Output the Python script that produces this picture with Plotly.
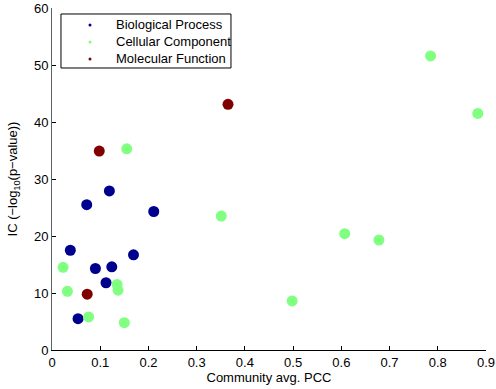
import plotly.graph_objects as go

# Community average PCC vs information content, grouped by GO namespace
bp_pcc = [0.119, 0.072, 0.211, 0.038, 0.169, 0.090, 0.124, 0.112, 0.054]
bp_ic = [27.9, 25.5, 24.3, 17.5, 16.7, 14.3, 14.6, 11.8, 5.5]

cc_pcc = [0.155, 0.351, 0.023, 0.135, 0.137, 0.032, 0.076, 0.150,
          0.785, 0.883, 0.607, 0.678, 0.498]
cc_ic = [35.3, 23.5, 14.5, 11.5, 10.5, 10.3, 5.8, 4.8,
         51.6, 41.5, 20.4, 19.3, 8.6]

mf_pcc = [0.098, 0.073, 0.365]
mf_ic = [34.9, 9.8, 43.1]

names = ["Biological Process", "Cellular Component", "Molecular Function"]
colors = ["#00008F", "#80FF80", "#800000"]
series = [(bp_pcc, bp_ic), (cc_pcc, cc_ic), (mf_pcc, mf_ic)]

x_ticks = [0, 0.1, 0.2, 0.3, 0.4, 0.5, 0.6, 0.7, 0.8, 0.9]
y_ticks = [0, 10, 20, 30, 40, 50, 60]

fig = go.Figure()
for name, color, (xs, ys) in zip(names, colors, series):
    fig.add_trace(go.Scatter(
        x=xs, y=ys, mode="markers", name=name, showlegend=False,
        marker=dict(color=color, size=11, line=dict(width=0)),
    ))

# Boxed legend in the upper-left corner with tiny marker dots
fig.add_shape(type="rect", xref="paper", yref="paper",
              x0=0.0207, x1=0.4124, y0=0.8246, y1=0.9825,
              line=dict(color="black", width=1), fillcolor="white", layer="above")
row_y = [0.9503, 0.9006, 0.8509]
for name, color, yy in zip(names, colors, row_y):
    fig.add_shape(type="circle", xref="paper", yref="paper",
                  xsizemode="pixel", ysizemode="pixel",
                  xanchor=0.0876, yanchor=yy,
                  x0=-1.5, x1=1.5, y0=-1.5, y1=1.5,
                  line=dict(width=0), fillcolor=color, layer="above")
    fig.add_annotation(x=0.1429, y=yy, xref="paper", yref="paper",
                       text=name, showarrow=False, xanchor="left", yanchor="middle",
                       font=dict(size=13, color="black"))

font = "Liberation Sans, Arial, sans-serif"
fig.update_layout(
    width=496, height=389,
    margin=dict(l=52, r=10, t=8, b=39),
    paper_bgcolor="white", plot_bgcolor="white",
    font=dict(family=font, size=13, color="black"),
    showlegend=False,
    xaxis=dict(
        range=[0, 0.9], tickvals=x_ticks, ticktext=[str(v) for v in x_ticks],
        ticks="inside", ticklen=4, tickcolor="black",
        showline=True, linecolor="black", linewidth=1,
        showgrid=False, zeroline=False, automargin=False,
        tickfont=dict(size=13),
        title=dict(text="Community avg. PCC", font=dict(size=13), standoff=2),
    ),
    yaxis=dict(
        range=[0, 60], tickvals=y_ticks,
        ticks="inside", ticklen=4, tickcolor="black",
        showline=True, linecolor="#606060", linewidth=1,
        showgrid=False, zeroline=False, automargin=False,
        tickfont=dict(size=13),
        title=dict(text="IC (\u2212log<sub>10</sub>(p\u2212value))",
                   font=dict(size=13), standoff=13),
    ),
)

fig.write_html("out.html")
